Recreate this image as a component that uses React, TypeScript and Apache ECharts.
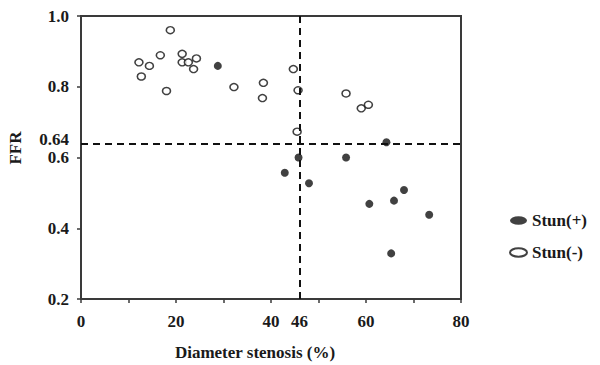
import React, { useEffect, useRef } from "react";
import * as echarts from "echarts";

const stunPlusX = [28.8, 42.9, 45.8, 48.0, 55.8, 64.3, 60.7, 65.9, 68.0, 73.3, 65.3];
const stunPlusY = [0.859, 0.557, 0.600, 0.527, 0.600, 0.643, 0.469, 0.478, 0.508, 0.438, 0.329];

const stunMinusX = [12.2, 12.7, 14.4, 16.7, 18.8, 18.0, 21.3, 21.3, 22.6, 24.3, 23.7, 32.2, 38.4, 38.2, 44.7, 45.7, 45.5, 55.8, 59.0, 60.5];
const stunMinusY = [0.869, 0.829, 0.859, 0.889, 0.960, 0.788, 0.893, 0.869, 0.869, 0.880, 0.850, 0.799, 0.811, 0.768, 0.850, 0.790, 0.673, 0.781, 0.739, 0.749];

const seriesNames = ["Stun(+)", "Stun(-)"];
const xTickLabels = ["0", "20", "40", "60", "80"];
const cutoffFFR = 0.64;
const cutoffStenosis = 46;
const xName = "Diameter stenosis (%)";
const yName = "FFR";

const FONT = "'Liberation Serif', 'Times New Roman', serif";
const ellipse = "path://M0,5 A10,5 0 1,0 20,5 A10,5 0 1,0 0,5 Z";

export default function App() {
  const ref = useRef<HTMLDivElement>(null);
  useEffect(() => {
    if (!ref.current) return;
    const chart = echarts.init(ref.current, null, { renderer: "svg" });
    const plus = stunPlusX.map((x, i) => [x, stunPlusY[i]]);
    const minus = stunMinusX.map((x, i) => [x, stunMinusY[i]]);
    const textBase = { fontFamily: FONT, fontWeight: "bold" as const, fontSize: 17, color: "#1a1a1a" };
    chart.setOption({
      animation: false,
      backgroundColor: "#fff",
      grid: { left: 81, top: 16, right: 139, bottom: 66, show: true, borderColor: "#3a3a3a", borderWidth: 2 },
      xAxis: {
        type: "value",
        min: 0,
        max: 80,
        interval: 10,
        splitLine: { show: false },
        axisLine: { lineStyle: { color: "#3a3a3a", width: 2 } },
        axisTick: { show: true, length: 4, lineStyle: { color: "#3a3a3a", width: 1.5 } },
        axisLabel: {
          ...textBase,
          margin: 14,
          formatter: (v: number) => (xTickLabels.includes(String(v)) ? String(v) : ""),
        },
      },
      yAxis: {
        type: "value",
        min: 0.2,
        max: 1.0,
        interval: 0.2,
        splitLine: { show: false },
        axisLine: { lineStyle: { color: "#3a3a3a", width: 2 } },
        axisTick: { show: true, length: 4, lineStyle: { color: "#3a3a3a", width: 1.5 } },
        axisLabel: { ...textBase, lineHeight: 14, margin: 12, formatter: (v: number) => v.toFixed(1) },
      },
      legend: {
        orient: "vertical",
        left: 504,
        top: 207,
        itemWidth: 17,
        itemHeight: 10,
        itemGap: 15,
        textStyle: { ...textBase },
        data: [
          { name: seriesNames[0], icon: ellipse },
          { name: seriesNames[1], icon: ellipse },
        ],
      },
      graphic: [
        {
          type: "text",
          x: 15,
          y: 148,
          rotation: Math.PI / 2,
          style: { text: yName, font: `bold 17px ${FONT}`, fill: "#1a1a1a", align: "center", verticalAlign: "middle" },
        },
        {
          type: "text",
          x: 255,
          y: 352,
          style: { text: xName, font: `bold 17px ${FONT}`, fill: "#1a1a1a", align: "center", verticalAlign: "middle" },
        },
      ],
      series: [
        {
          name: seriesNames[0],
          type: "scatter",
          data: plus,
          symbol: "circle",
          symbolSize: 8,
          itemStyle: { color: "#111" },
          markLine: {
            silent: true,
            symbol: "none",
            lineStyle: { color: "#111", type: [7, 5], width: 2 },
            data: [
              { yAxis: cutoffFFR, label: { show: true, position: "start", distance: 12, offset: [0, -4], lineHeight: 14, formatter: String(cutoffFFR), ...textBase } },
              { xAxis: cutoffStenosis, label: { show: true, position: "start", distance: 14, formatter: String(cutoffStenosis), ...textBase } },
            ],
          },
          z: 3,
        },
        {
          name: seriesNames[1],
          type: "scatter",
          data: minus,
          symbol: "circle",
          symbolSize: [8, 7],
          itemStyle: { color: "#fff", borderColor: "#111", borderWidth: 1.5 },
          z: 3,
        },
      ],
    });
    return () => chart.dispose();
  }, []);
  return <div ref={ref} style={{ position: "fixed", left: 0, top: 0, width: 600, height: 365 }} />;
}
